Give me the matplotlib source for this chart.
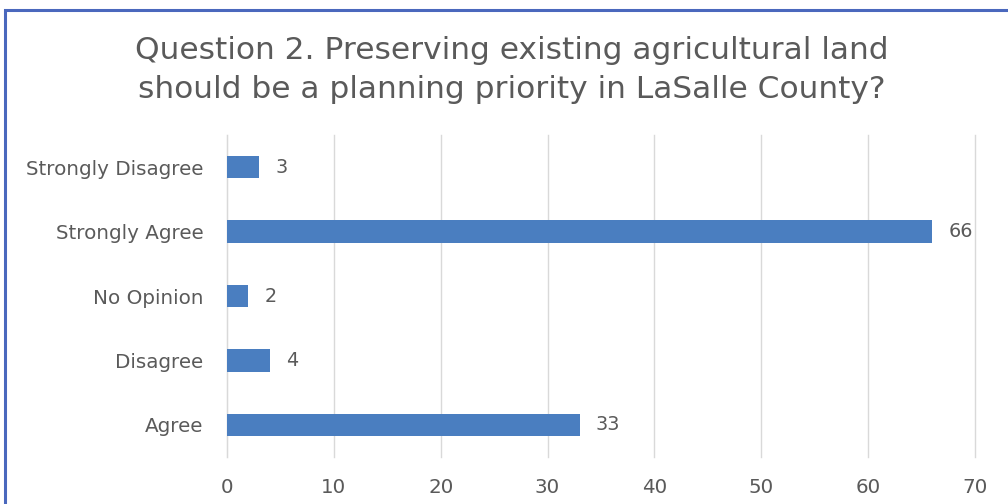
import matplotlib.pyplot as plt
from matplotlib.patches import Rectangle

categories = ["Agree", "Disagree", "No Opinion", "Strongly Agree", "Strongly Disagree"]
counts = [33, 4, 2, 66, 3]
xticks = [0, 10, 20, 30, 40, 50, 60, 70]

plt.rcParams["font.family"] = ["DejaVu Sans"]

W, H = 1008, 504
fig = plt.figure(figsize=(W / 100, H / 100), dpi=100)
ax = fig.add_axes([227 / W, 1 - 457 / H, (975 - 227) / W, (457 - 135) / H])

bar_color = "#4a7ec0"
text_color = "#5a5a5a"

ypos = list(range(len(categories)))
ax.barh(ypos, counts, height=0.35, color=bar_color, zorder=3)
for y, v in zip(ypos, counts):
    ax.text(v + 1.5, y, str(v), va="center", ha="left", fontsize=13.8, color=text_color)

ax.set_xlim(0, 70)
ax.set_ylim(-0.5, len(categories) - 0.5)
ax.set_xticks(xticks)
ax.set_yticks(ypos)
ax.set_yticklabels(categories)
ax.tick_params(axis="both", length=0, labelsize=14.3, colors=text_color)
ax.tick_params(axis="y", pad=17)
ax.tick_params(axis="x", pad=15)
ax.xaxis.grid(True, color="#d9d9d9", linewidth=1, zorder=0)
for gl in ax.get_xgridlines():
    gl.set_clip_on(False)
for s in ax.spines.values():
    s.set_visible(False)
ax.spines["left"].set_visible(True)
ax.spines["left"].set_color("#d9d9d9")

fig.text(512 / W, 1 - 70 / H,
         "Question 2. Preserving existing agricultural land\nshould be a planning priority in LaSalle County?",
         ha="center", va="center", fontsize=22.5, color=text_color, linespacing=1.4)

# outer frame of the chart area
fig.add_artist(Rectangle((5 / W, -0.05), 1.1, 1 - 9.5 / H + 0.05,
                         transform=fig.transFigure, fill=False,
                         edgecolor="#4a68bd", linewidth=2.2))

fig.savefig("out.png", dpi=100)
